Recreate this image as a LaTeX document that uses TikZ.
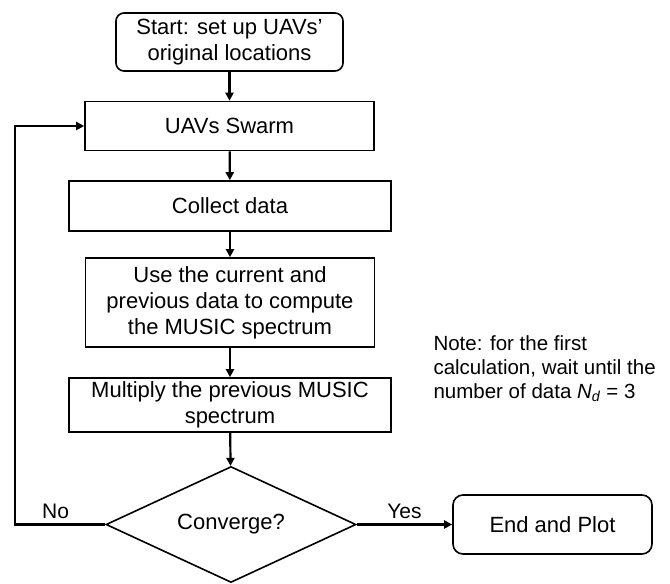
\documentclass[tikz,border=0pt]{standalone}
\usepackage{fontspec}
\setmainfont{Liberation Sans}
\usetikzlibrary{shapes.geometric,arrows.meta}

\begin{document}
\begin{tikzpicture}[x=1pt,y=-1pt,
    font=\fontsize{22}{26}\selectfont,
    box/.style={draw,line width=1.6pt,align=center,inner sep=0pt},
    flow/.style={line width=2.2pt,-{Triangle[length=8pt,width=8pt]}}]
        \useasboundingbox (0,0) rectangle (670,584);
        % boxes of the loop
        \node[box,rounded corners=8pt,minimum width=227,minimum height=58](start) at (229.5,42){Start: set up UAVs'\\original locations};
        \node[box,minimum width=289,minimum height=49](swarm) at (229.5,126){UAVs Swarm};
        \node[box,minimum width=322,minimum height=50](collect) at (230,206){Collect data};
        \node[box,minimum width=289,minimum height=89](music) at (230,302.5){Use the current and\\previous data to compute\\the MUSIC spectrum};
        \node[box,minimum width=322,minimum height=54](mult) at (230,405){Multiply the previous MUSIC\\spectrum};
        \node[box,diamond,shape aspect=2.16,minimum width=250,minimum height=116](conv) at (231,524.5){Converge?};
        \node[box,rounded corners=10pt,minimum width=199,minimum height=59](finish) at (552.5,524.5){End and Plot};
        \node[anchor=west,align=left,font=\fontsize{20.5}{24}\selectfont](note) at (430,369){Note: for the first\\calculation, wait until the\\number of data \textit{N}\textsubscript{\textit{d}} = 3};
        % arrows
        \draw[flow](start)--(swarm);
        \draw[flow](swarm)--(collect);
        \draw[flow](collect)--(music);
        \draw[flow](music)--(mult);
        \draw[flow](mult)--(conv);
        \draw[flow](conv.east)--node[above=1pt,font=\fontsize{21}{24}\selectfont]{Yes}(finish.west);
        \coordinate(back) at (15,524.5);
        \draw[flow](conv.west)--node[pos=0.55,above=1pt,font=\fontsize{21}{24}\selectfont]{No}(back)|-(swarm.west);
    \end{tikzpicture}
\end{document}
